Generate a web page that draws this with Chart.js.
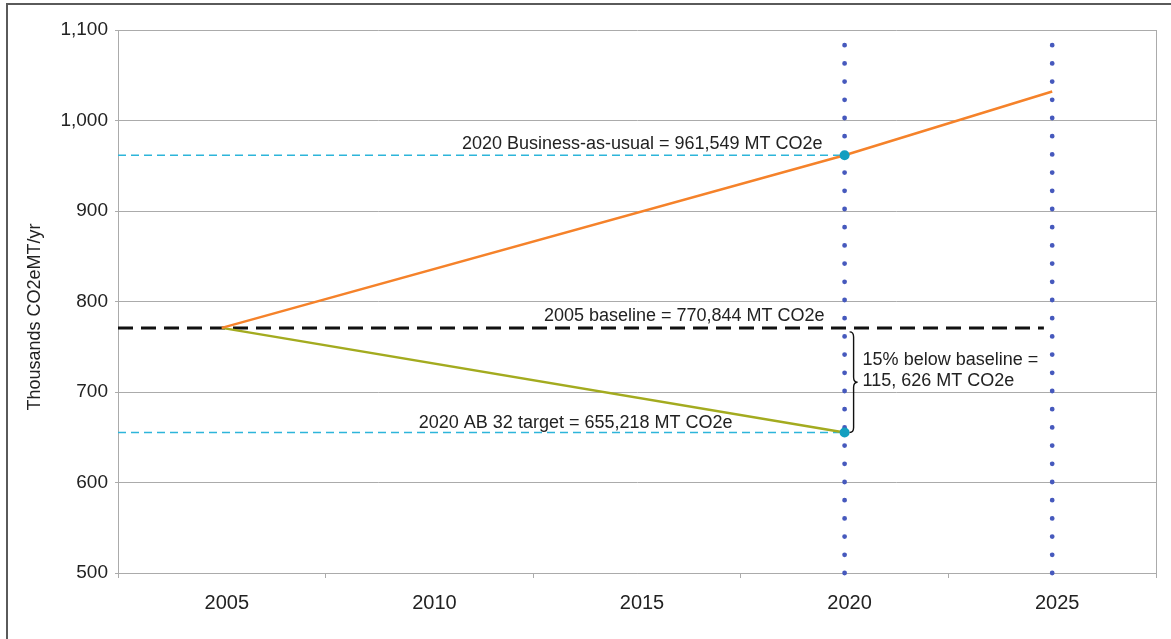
<!DOCTYPE html>
<html>
<head>
<meta charset="utf-8">
<script src="https://cdn.jsdelivr.net/npm/chart.js@4/dist/chart.umd.min.js"></script>
<style>
  html, body { margin: 0; padding: 0; background: #fff; }
  #wrap { position: relative; width: 1171px; height: 639px; overflow: hidden; }
  #frame { position: absolute; left: 6px; top: 3px; right: -10px; bottom: -10px;
           border-top: 2px solid #5a5a5a; border-left: 2px solid #5a5a5a; pointer-events: none; }
  canvas { position: absolute; left: 0; top: 0; }
</style>
</head>
<body>
<div id="wrap">
  <canvas id="ghgChart" width="1171" height="639"></canvas>
  <div id="frame"></div>
</div>
<script>
// x categories and y ticks
const categories = ['2005', '2010', '2015', '2020', '2025'];
const yMin = 500, yMax = 1100, yStep = 100;

// series (thousands MT CO2e / yr)
const bauYears     = [2005, 2020, 2025];
const bauValues    = [770.844, 961.549, 1032];
const targetYears  = [2005, 2020];
const targetValues = [770.844, 655.218];
const baselineValue = 770.844;
const refYears      = [2020, 2025];   // dotted vertical lines
const refTop        = 1084;

// year range of the hidden linear axis (category edges)
const xStart = 2002.5, xEnd = 2027.5;
const baselineEnd = 2024.8;

const pts = (xs, ys) => xs.map((x, i) => ({ x, y: ys[i] }));

const FONT = '"Liberation Sans", Arial, Helvetica, sans-serif';
const TXT  = '#222';
const GRID = '#ababab';

// labels and brace, drawn after the datasets
const notesPlugin = {
  id: 'notes',
  afterDatasetsDraw(chart) {
    const { ctx, chartArea } = chart;
    const xs = chart.scales.x2, ys = chart.scales.y;
    ctx.save();

    // right edge of plot area
    ctx.strokeStyle = GRID;
    ctx.lineWidth = 1;
    ctx.beginPath();
    ctx.moveTo(chartArea.right + 0.5, chartArea.top);
    ctx.lineTo(chartArea.right + 0.5, chartArea.bottom);
    ctx.stroke();

    ctx.fillStyle = TXT;
    ctx.font = '18px ' + FONT;
    ctx.textBaseline = 'alphabetic';

    const x20 = xs.getPixelForValue(2020);

    ctx.textAlign = 'right';
    ctx.fillText('2020 Business-as-usual = 961,549 MT CO2e', x20 - 22, ys.getPixelForValue(bauValues[1]) - 6);
    ctx.fillText('2005 baseline = 770,844 MT CO2e', x20 - 20, ys.getPixelForValue(baselineValue) - 7);
    ctx.fillText('2020 AB 32 target = 655,218 MT CO2e', xs.getPixelForValue(2017.3), ys.getPixelForValue(targetValues[1]) - 5);

    // brace
    const yTop = ys.getPixelForValue(baselineValue) + 4;
    const yBot = ys.getPixelForValue(targetValues[1]);
    const yMid = (yTop + yBot) / 2;
    const bx = x20 + 5;
    ctx.strokeStyle = '#111';
    ctx.lineWidth = 1.4;
    ctx.beginPath();
    ctx.moveTo(bx, yTop);
    ctx.quadraticCurveTo(bx + 4, yTop, bx + 4, yTop + 5);
    ctx.lineTo(bx + 4, yMid - 5);
    ctx.quadraticCurveTo(bx + 4, yMid, bx + 8, yMid);
    ctx.quadraticCurveTo(bx + 4, yMid, bx + 4, yMid + 5);
    ctx.lineTo(bx + 4, yBot - 5);
    ctx.quadraticCurveTo(bx + 4, yBot, bx, yBot);
    ctx.stroke();

    ctx.textAlign = 'left';
    ctx.fillText('15% below baseline =', x20 + 18, yMid - 17);
    ctx.fillText('115, 626 MT CO2e', x20 + 18, yMid + 4);

    // y axis title
    ctx.translate(35, 317);
    ctx.rotate(-Math.PI / 2);
    ctx.textAlign = 'center';
    ctx.textBaseline = 'middle';
    ctx.fillText('Thousands CO2eMT/yr', 0, 0);
    ctx.restore();
  }
};

new Chart(document.getElementById('ghgChart'), {
  type: 'line',
  data: {
    labels: categories,
    datasets: [
      {
        label: '2020 points',
        xAxisID: 'x2',
        data: [{ x: bauYears[1], y: bauValues[1] }, { x: targetYears[1], y: targetValues[1] }],
        showLine: false,
        pointRadius: 5,
        pointBackgroundColor: '#139fc0',
        pointBorderWidth: 0
      },
      {
        label: 'Business-as-usual',
        xAxisID: 'x2',
        data: pts(bauYears, bauValues),
        borderColor: '#f5822a',
        borderWidth: 2.5,
        pointRadius: 0
      },
      {
        label: 'AB 32 target',
        xAxisID: 'x2',
        data: pts(targetYears, targetValues),
        borderColor: '#a3ab1f',
        borderWidth: 2.5,
        pointRadius: 0
      },
      {
        label: 'BAU level',
        xAxisID: 'x2',
        data: pts([xStart, 2020], [bauValues[1], bauValues[1]]),
        borderColor: '#2db5da',
        borderWidth: 1.6,
        borderDash: [8, 5],
        pointRadius: 0
      },
      {
        label: 'Target level',
        xAxisID: 'x2',
        data: pts([xStart, 2020], [targetValues[1], targetValues[1]]),
        borderColor: '#2db5da',
        borderWidth: 1.6,
        borderDash: [8, 5],
        pointRadius: 0
      },
      {
        label: '2005 baseline',
        xAxisID: 'x2',
        data: pts([xStart, baselineEnd], [baselineValue, baselineValue]),
        borderColor: '#111',
        borderWidth: 3,
        borderDash: [15, 8],
        pointRadius: 0
      },
      ...refYears.map(yr => ({
        label: 'ref ' + yr,
        xAxisID: 'x2',
        data: pts([yr, yr], [yMin, refTop]),
        borderColor: '#4659bd',
        borderWidth: 4.8,
        borderCapStyle: 'round',
        borderDash: [0, 18.2],
        pointRadius: 0,
        clip: 6
      }))
    ]
  },
  options: {
    responsive: false,
    animation: false,
    locale: 'en-US',
    layout: { padding: { top: 30, right: 15, left: 0, bottom: 0 } },
    plugins: { legend: { display: false }, tooltip: { enabled: false } },
    scales: {
      x: {
        type: 'category',
        labels: categories,
        offset: true,
        afterFit: s => { s.height = 66; },
        grid: { offset: true, drawOnChartArea: false, tickLength: 5, color: GRID },
        border: { color: GRID },
        ticks: { color: TXT, font: { family: FONT, size: 20 }, padding: 13, labelOffset: 5, maxRotation: 0 }
      },
      x2: { type: 'linear', display: false, min: xStart, max: xEnd },
      y: {
        min: yMin,
        max: yMax,
        afterFit: s => { s.width = 118; },
        grid: { color: GRID, tickLength: 3 },
        border: { color: GRID },
        ticks: { stepSize: yStep, color: TXT, font: { family: FONT, size: 19 }, padding: 7 }
      }
    }
  },
  plugins: [notesPlugin]
});
</script>
</body>
</html>
